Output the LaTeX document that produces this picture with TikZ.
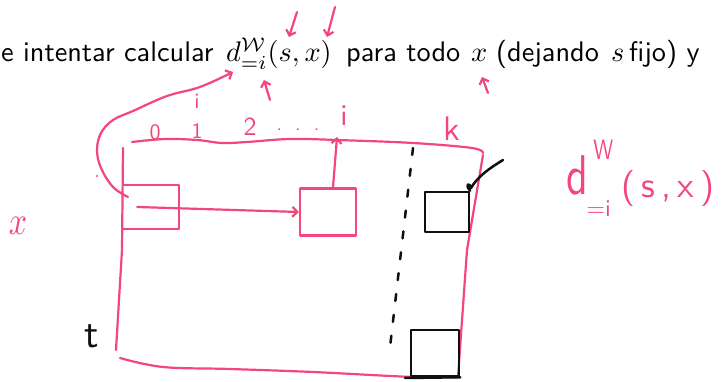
\documentclass[tikz,border=0pt]{standalone}
\usepackage{graphicx}
\usetikzlibrary{arrows.meta}
\definecolor{ink}{RGB}{243,70,122}
\definecolor{pen}{RGB}{15,15,15}
% slide text: 10pt sans, enlarged as a box so the baseline stays put
\newcommand{\slidetxt}[1]{\scalebox{2.83}{\sffamily #1}}
\begin{document}
\begin{tikzpicture}[x=1pt, y=-1pt, line cap=round, line join=round,
  hand/.style={draw=ink, line width=2.2pt},
  marker/.style={draw=pen, line width=2.5pt},
  barb/.style={-{Straight Barb[length=5pt,width=10pt]}},
  handlabel/.style={text=ink, inner sep=0pt},
  fs/.style={font=\sffamily, scale=#1/10},
  slide/.style={anchor=base west, inner sep=0pt},
  cellbox/.style={hand, minimum width=#1, inner sep=0pt},
  blackbox/.style={marker, inner sep=0pt},
]
\useasboundingbox (0,0) rectangle (721,382);

% slide sentence
\node[slide] (pre)   at (1,62)   {\slidetxt{e intentar calcular}};
\node[slide] (form)  at (226,62) {\slidetxt{$d^{\mathcal{W}}_{=i}(s,x)$}};
\node[slide] (para)  at (346,62) {\slidetxt{para todo}};
\node[slide] (xm)    at (471,62) {\slidetxt{$x$}};
\node[slide] (dej)   at (496,62) {\slidetxt{(dejando}};
\node[slide] (sm)    at (611,62) {\slidetxt{$s$}};
\node[slide] (fijo)  at (629,62) {\slidetxt{fijo) y}};

% arrow ends around the formula
\coordinate (sfrom) at (297,12);  \coordinate (sto) at (289,37);
\coordinate (xfrom) at (335,7);   \coordinate (xto) at (327,37);
\coordinate (ifrom) at (270,100); \coordinate (ito) at (264,80);
\coordinate (tfrom) at (488,93);  \coordinate (tto) at (482,77);

\draw[hand, barb] (sfrom) -- (sto);
\draw[hand, barb] (xfrom) -- (xto);
\draw[hand, barb] (ifrom) -- (ito);
\draw[hand, barb] (tfrom) -- (tto);

% table outline
\draw[hand] plot[smooth, tension=0.6] coordinates
  {(132,142) (165,139) (197,140) (222,143) (247,142) (290,139) (337,140) (413,143) (472,148) (483,153)};
\draw[hand] (123,148) -- (122,250) -- (116,350);
\draw[hand] (483,155) -- (467,250) -- (458,377);
\draw[hand] plot[smooth, tension=0.6] coordinates
  {(120,358) (163,367) (230,369) (313,372) (413,377) (458,377)};

% column labels
\node[handlabel, fs=22] (c0) at (155,132) {0};
\node[handlabel, fs=22] (c1) at (197,131) {1};
\node[handlabel, fs=22] (cup) at (197,101) {i};
\node[handlabel, fs=26] (c2) at (250,127) {2};
\node[handlabel, fs=20] (cdots) at (298,130) {.\hspace{6.5pt}.\hspace{6.5pt}.};
\node[handlabel, fs=30] (ci) at (344,116) {i};
\node[handlabel, fs=34] (ck) at (452,129) {k};

% cells
\node[minimum width=55pt, minimum height=44pt, inner sep=0pt] (leftbox) at (151,207) {};
\draw[hand] (leftbox.north west) -| (leftbox.south east) -- (leftbox.south west);
\node[cellbox=56pt, minimum height=47pt] (midbox) at (328,212) {};
\coordinate (itop) at (337,137);
\draw[hand, barb] ([xshift=14pt]leftbox.west) -- (midbox.west);
\draw[hand, barb] ([xshift=5pt]midbox.north) -- (itop);

% recursion arrow towards the formula
\draw[hand, barb] plot[smooth, tension=0.6] coordinates
  {(128,197) (113,187) (101,168) (97,150) (101,133) (113,120) (133,111) (167,96) (200,87) (233,72)};
\fill[ink] (97,176) circle (1.2pt);

% column k
\draw[marker, dash pattern=on 7pt off 14pt] (413,148) -- (389,356);
\node[blackbox, minimum width=44pt, minimum height=40pt] (kbox1) at (447,212) {};
\coordinate (lead) at (503,160);
\draw[marker] (kbox1.north east) .. controls (464,184) and (470,182) .. (471,188)
  .. controls (478,176) and (490,168) .. (lead);
\node[blackbox, minimum width=48pt, minimum height=46pt] (kbox2) at (435,353) {};
\draw[marker] (405,378) -- (kbox2.south east);

% side labels
\node[handlabel, scale=4, xscale=0.8] (xlab) at (18,226) {$x$};
\node[text=pen, inner sep=0pt, fs=40] (tlab) at (92,336) {t};

% handwritten formula
\node[handlabel, fs=56, xscale=0.75, anchor=base west] (rd) at (566,195) {d};
\node[handlabel, fs=28, xscale=0.75, anchor=base west] (rW) at (593,160) {W};
\node[handlabel, fs=24, anchor=base west] (ri) at (586,217) {=i};
\node[handlabel, fs=36, anchor=base west] (rargs) at (621,198) {(\,s\,,\,x\,)};
\end{tikzpicture}
\end{document}
